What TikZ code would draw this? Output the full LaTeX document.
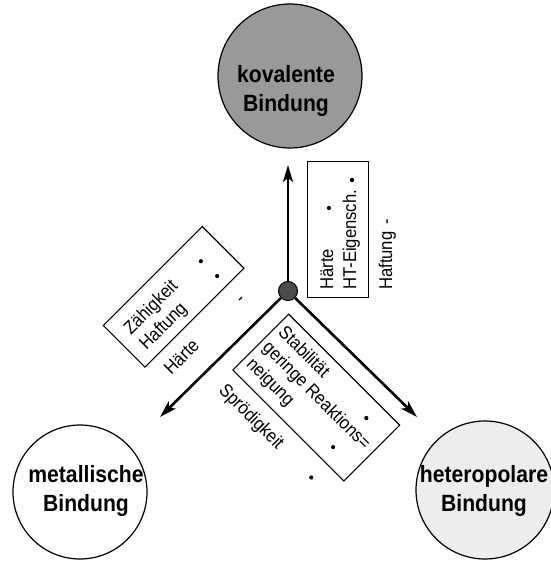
\documentclass[tikz,border=0pt]{standalone}
\usepackage{fontspec}
\setmainfont{Liberation Sans}
\newfontfamily\lblfont[FakeStretch=0.9]{Liberation Sans}
\newfontfamily\bndfont[FakeStretch=0.9]{Liberation Sans}
\usetikzlibrary{arrows.meta}
\tikzset{
  bond/.style={circle, draw, line width=1.2pt, inner sep=0pt},
  bondtext/.style={inner sep=0pt, align=center,
    font=\bndfont\bfseries\fontsize{23.5}{29}\selectfont},
  hubdot/.style={circle, draw, line width=1pt, fill=black!70, minimum size=19pt, inner sep=0pt},
  arr/.style={line width=2.6pt, -{Stealth[length=17pt,width=10pt,inset=4pt]}},
  frame/.style={draw, line width=1.1pt, inner sep=0pt, anchor=south west},
  lbl/.style={inner sep=0pt, anchor=base west, font=\lblfont\fontsize{18.5}{21}\selectfont},
  markdot/.style={circle, fill, inner sep=0pt, minimum size=4.2pt},
  minus/.style={inner sep=0pt, anchor=base, font=\lblfont\fontsize{18.5}{21}\selectfont}
}
\begin{document}
\begin{tikzpicture}[x=1pt,y=1pt]
\useasboundingbox (0,0) rectangle (551,562);
% bonds
\node[bond, fill=black!40, minimum size=144pt] (kov) at (290,486) {};
\node[bondtext] (kovt) at (286,471.5) {kovalente\\Bindung};
\node[bond, minimum size=134pt] (met) at (80,70) {};
\node[bondtext] (mett) at (86,71.5) {metallische\\Bindung};
\node[bond, fill=black!7, minimum size=138pt] (het) at (485,72) {};
\node[bondtext] (hett) at (484,71.5) {heteropolare\\Bindung};
% hub and arrows
\node[hubdot] (hub) at (288,271) {};
\coordinate (tu) at (288,397);
\coordinate (tl) at (160,145);
\coordinate (tr) at (417,145);
\draw[arr] (hub) -- (tu);
\draw[arr] (hub) -- (tl);
\draw[arr] (hub) -- (tr);
% box 1 (vertical)
\begin{scope}[shift={(369,264)}, rotate=90, transform shape]
  \node[frame, minimum width=136pt, minimum height=61pt] (boxA) at (0,0) {};
  \node[lbl] (a1) at (8,36) {Härte};
  \node[lbl] (a2) at (8,13) {HT-Eigensch.};
  \node[lbl] (a3) at (8,-23) {Haftung};
  \node[markdot] (am1) at (90,40) {};
  \node[markdot] (am2) at (118,17) {};
  \node[minus] (am3) at (76,-23) {-};
\end{scope}
% box 2 (upper left)
\begin{scope}[shift={(145,194)}, rotate=45, transform shape]
  \node[frame, minimum width=140pt, minimum height=59pt] (boxB) at (0,0) {};
  \node[lbl] (b1) at (13,33) {Zähigkeit};
  \node[lbl] (b2) at (13,11) {Haftung};
  \node[lbl] (b3) at (13,-24) {Härte};
  \node[markdot] (bm1) at (115,36) {};
  \node[markdot] (bm2) at (116,14) {};
  \node[minus] (bm3) at (116,-24) {-};
\end{scope}
% box 3 (lower right)
\begin{scope}[shift={(232,192)}, rotate=-45, transform shape]
  \node[frame, minimum width=157pt, minimum height=79pt] (boxC) at (0,0) {};
  \node[lbl] (c1) at (6,58) {Stabilität};
  \node[lbl] (c2) at (6,36) {geringe Reaktions=};
  \node[lbl] (c3) at (6,13) {neigung};
  \node[lbl] (c4) at (5,-25) {Sprödigkeit};
  \node[markdot] (cm1) at (129,61) {};
  \node[markdot] (cm2) at (126,17) {};
  \node[markdot] (cm3) at (132,-20) {};
\end{scope}
\end{tikzpicture}
\end{document}
